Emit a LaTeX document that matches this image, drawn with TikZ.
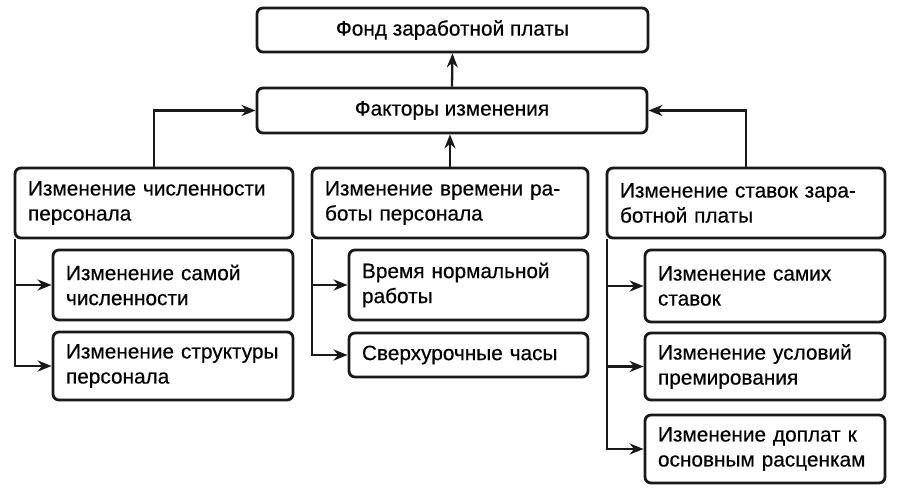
\documentclass[tikz,border=0pt]{standalone}
\usepackage{fontspec}
\setmainfont{Liberation Sans}[FakeBold=0.4]
\usetikzlibrary{arrows.meta}
\newcommand\oneline[1]{\mbox{#1}}
\begin{document}
\begin{tikzpicture}[x=1pt,y=-1pt,
  box/.style={draw=black!90, line width=2.8pt, rounded corners=6pt, inner ysep=0pt,
    font=\fontsize{20.8}{25}\selectfont},
  cbox/.style={box, align=center},
  lbox/.style={box, align=left, inner xsep=13pt},
  arr/.style={draw=black!90, line width=2.3pt, -{Stealth[length=14pt,width=11pt]}}]
\useasboundingbox[fill=white] (0,0) rectangle (898,492);
\node[cbox, minimum width=391pt, minimum height=44pt] (T) at (452.5,30) {Фонд заработной платы};
\node[cbox, minimum width=390pt, minimum height=45pt] (F) at (452,110.5) {Факторы изменения};
\node[lbox, text width=252pt, minimum height=70pt] (L) at (154,203) {\oneline{Изменение численности}\\\oneline{персонала}};
\node[lbox, text width=250pt, minimum height=70pt] (M) at (450,203) {\oneline{Изменение времени ра-}\\\oneline{боты персонала}};
\node[lbox, text width=252pt, minimum height=70pt] (R) at (746,203) {\oneline{Изменение ставок зара-}\\\oneline{ботной платы}};
\node[lbox, text width=214pt, minimum height=70pt] (L1) at (173,285) {\oneline{Изменение самой}\\\oneline{численности}};
\node[lbox, text width=214pt, minimum height=68pt] (L2) at (173,366) {\oneline{Изменение структуры}\\\oneline{персонала}};
\node[lbox, text width=213pt, minimum height=70pt] (M1) at (468.5,285) {\oneline{Время нормальной}\\\oneline{работы}};
\node[lbox, text width=213pt, minimum height=44pt] (M2) at (468.5,355) {\oneline{Сверхурочные часы}};
\node[lbox, text width=214pt, minimum height=72pt] (R1) at (765,286) {\oneline{Изменение самих}\\\oneline{ставок}};
\node[lbox, text width=214pt, minimum height=67pt] (R2) at (765,366.5) {\oneline{Изменение условий}\\\oneline{премирования}};
\node[lbox, text width=214pt, minimum height=68pt] (R3) at (765,449) {\oneline{Изменение доплат к}\\\oneline{основным расценкам}};
\draw[arr] (F.north) -- (T.south);
\draw[arr] (M.north) -- (M.north |- F.south);
\draw[arr] (L.north) |- (F.west);
\draw[arr] (R.north) |- (F.east);
\draw[arr] ([xshift=1.5pt]L.south west) |- (L1.west);
\draw[arr] ([xshift=1.5pt]L.south west) |- (L2.west);
\draw[arr] ([xshift=1.5pt]M.south west) |- (M1.west);
\draw[arr] ([xshift=1.5pt]M.south west) |- (M2.west);
\draw[arr] ([xshift=1.5pt]R.south west) |- (R1.west);
\draw[arr] ([xshift=1.5pt]R.south west) |- (R2.west);
\draw[arr] ([xshift=1.5pt]R.south west) |- (R3.west);
\end{tikzpicture}
\end{document}
